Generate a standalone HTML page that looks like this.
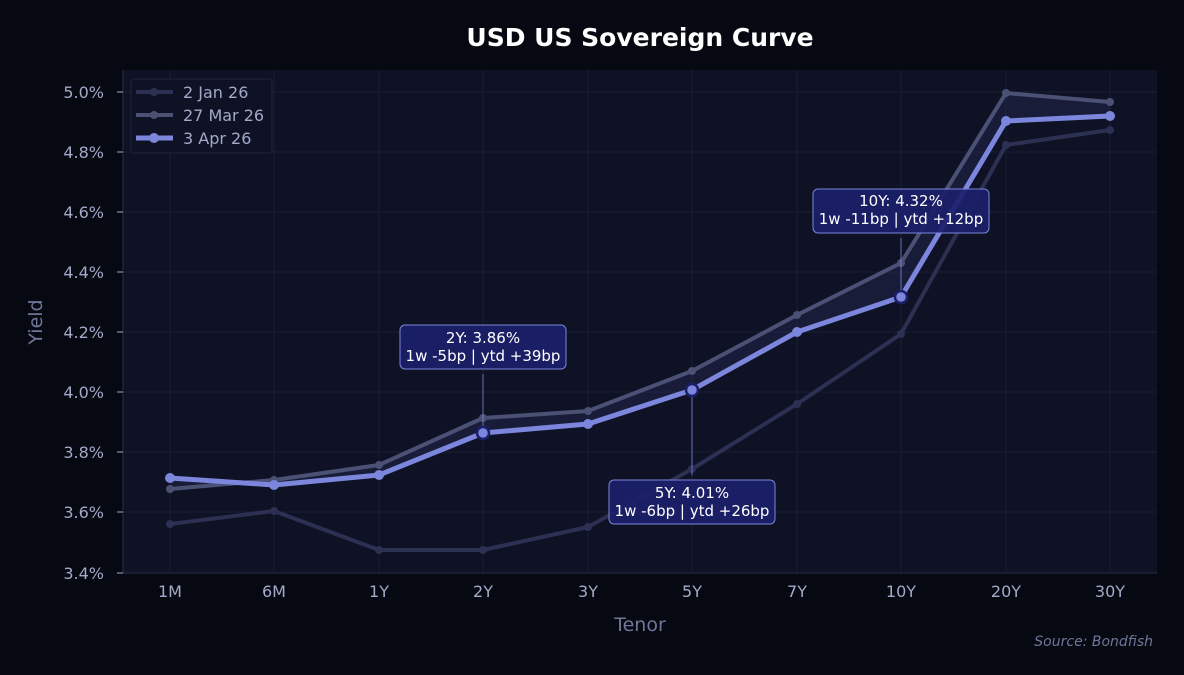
<!DOCTYPE html>
<html><head><meta charset="utf-8"><style>
html,body{margin:0;padding:0;background:#060911;}
svg{display:block;font-family:"DejaVu Sans","Liberation Sans",sans-serif;}
</style></head><body>
<svg width="1184" height="675" viewBox="0 0 1184 675">
<rect width="1184" height="675" fill="#060911"/>
<rect x="123" y="70" width="1034" height="503" fill="#0e1224"/>
<g stroke="#1a1f35" stroke-width="1">
<line x1="123" x2="1157" y1="92" y2="92"/><line x1="123" x2="1157" y1="152" y2="152"/>
<line x1="123" x2="1157" y1="212" y2="212"/><line x1="123" x2="1157" y1="272" y2="272"/>
<line x1="123" x2="1157" y1="332" y2="332"/><line x1="123" x2="1157" y1="392" y2="392"/>
<line x1="123" x2="1157" y1="452" y2="452"/><line x1="123" x2="1157" y1="512" y2="512"/>
<line y1="70" y2="573" x1="170" x2="170"/><line y1="70" y2="573" x1="274" x2="274"/>
<line y1="70" y2="573" x1="379" x2="379"/><line y1="70" y2="573" x1="483" x2="483"/>
<line y1="70" y2="573" x1="588" x2="588"/><line y1="70" y2="573" x1="692" x2="692"/>
<line y1="70" y2="573" x1="797" x2="797"/><line y1="70" y2="573" x1="901" x2="901"/>
<line y1="70" y2="573" x1="1006" x2="1006"/><line y1="70" y2="573" x1="1110" x2="1110"/>
</g>
<line x1="123" x2="1157" y1="573" y2="573" stroke="#2a2f48"/>
<line x1="123" x2="123" y1="70" y2="573" stroke="#2a2f48"/>
<text x="640" y="46" text-anchor="middle" fill="#ffffff" font-size="25" font-weight="bold">USD US Sovereign Curve</text>
<g fill="#a3a9c9" font-size="16" text-anchor="end">
<text x="104" y="98">5.0%</text><text x="104" y="158">4.8%</text><text x="104" y="218">4.6%</text>
<text x="104" y="278">4.4%</text><text x="104" y="338">4.2%</text><text x="104" y="398">4.0%</text>
<text x="104" y="458">3.8%</text><text x="104" y="518">3.6%</text><text x="104" y="579">3.4%</text>
</g>
<g stroke="#a3a9c9"><line x1="117" x2="123" y1="92" y2="92"/><line x1="117" x2="123" y1="152" y2="152"/><line x1="117" x2="123" y1="212" y2="212"/><line x1="117" x2="123" y1="272" y2="272"/><line x1="117" x2="123" y1="332" y2="332"/><line x1="117" x2="123" y1="392" y2="392"/><line x1="117" x2="123" y1="452" y2="452"/><line x1="117" x2="123" y1="512" y2="512"/><line x1="117" x2="123" y1="573" y2="573"/></g>
<g fill="#a3a9c9" font-size="16" text-anchor="middle">
<text x="170" y="597">1M</text><text x="274" y="597">6M</text><text x="379" y="597">1Y</text><text x="483" y="597">2Y</text><text x="588" y="597">3Y</text><text x="692" y="597">5Y</text><text x="797" y="597">7Y</text><text x="901" y="597">10Y</text><text x="1006" y="597">20Y</text><text x="1110" y="597">30Y</text>
</g>
<text x="640" y="631" text-anchor="middle" fill="#6f7699" font-size="19">Tenor</text>
<text transform="translate(42,322) rotate(-90)" text-anchor="middle" fill="#6f7699" font-size="19">Yield</text>
<text x="1153" y="646" text-anchor="end" fill="#6f7699" font-size="14" font-style="italic">Source: Bondfish</text>
<polygon points="170,489 274,480 379,465 483,418 588,411 692,371 797,315 901,263 1006,93 1110,102 1110,116 1006,121 901,297 797,332 692,390 588,424 483,433 379,475 274,485 170,478" fill="#2a3060" opacity="0.35"/>
<g fill="none" stroke-linejoin="round">
<polyline points="170,524 274,511 379,550 483,550 588,527 692,469 797,404 901,334 1006,145 1110,130" stroke="#2c3052" stroke-width="4"/>
<polyline points="170,489 274,480 379,465 483,418 588,411 692,371 797,315 901,263 1006,93 1110,102" stroke="#4a5175" stroke-width="4"/>
<polyline points="170,478 274,485 379,475 483,433 588,424 692,390 797,332 901,297 1006,121 1110,116" stroke="#7b86dc" stroke-width="5"/>
</g>
<g fill="#2c3052"><circle cx="170" cy="524" r="4"/><circle cx="274" cy="511" r="4"/><circle cx="379" cy="550" r="4"/><circle cx="483" cy="550" r="4"/><circle cx="588" cy="527" r="4"/><circle cx="692" cy="469" r="4"/><circle cx="797" cy="404" r="4"/><circle cx="901" cy="334" r="4"/><circle cx="1006" cy="145" r="4"/><circle cx="1110" cy="130" r="4"/></g>
<g fill="#4a5175"><circle cx="170" cy="489" r="4"/><circle cx="274" cy="480" r="4"/><circle cx="379" cy="465" r="4"/><circle cx="483" cy="418" r="4"/><circle cx="588" cy="411" r="4"/><circle cx="692" cy="371" r="4"/><circle cx="797" cy="315" r="4"/><circle cx="901" cy="263" r="4"/><circle cx="1006" cy="93" r="4"/><circle cx="1110" cy="102" r="4"/></g>
<g fill="#7b86dc"><circle cx="170" cy="478" r="5"/><circle cx="274" cy="485" r="5"/><circle cx="379" cy="475" r="5"/><circle cx="588" cy="424" r="5"/><circle cx="797" cy="332" r="5"/><circle cx="1006" cy="121" r="5"/><circle cx="1110" cy="116" r="5"/></g>
<g fill="#7b86dc" stroke="#1b1f6a" stroke-width="2.5"><circle cx="483" cy="433" r="6"/><circle cx="692" cy="390" r="6"/><circle cx="901" cy="297" r="6"/></g>
<g stroke="#7b86dc" stroke-width="1" opacity="0.8"><line x1="483" x2="483" y1="374" y2="426"/><line x1="692" x2="692" y1="397" y2="475"/><line x1="901" x2="901" y1="238" y2="290"/></g>
<g font-size="15" fill="#ffffff" text-anchor="middle">
<rect x="400" y="325" width="166" height="44" rx="5" fill="#1b1f6a" fill-opacity="0.92" stroke="#7b86dc"/>
<text x="483" y="343">2Y: 3.86%</text><text x="483" y="361">1w -5bp | ytd +39bp</text>
<rect x="609" y="480" width="166" height="44" rx="5" fill="#1b1f6a" fill-opacity="0.92" stroke="#7b86dc"/>
<text x="692" y="498">5Y: 4.01%</text><text x="692" y="516">1w -6bp | ytd +26bp</text>
<rect x="813" y="189" width="176" height="44" rx="5" fill="#1b1f6a" fill-opacity="0.92" stroke="#7b86dc"/>
<text x="901" y="206">10Y: 4.32%</text><text x="901" y="224">1w -11bp | ytd +12bp</text>
</g>
<rect x="131" y="79" width="141" height="74" rx="3" fill="#0e1224" stroke="#1f2440"/>
<line x1="136" x2="173" y1="92" y2="92" stroke="#2c3052" stroke-width="4"/><circle cx="154" cy="92" r="4" fill="#2c3052"/>
<line x1="136" x2="173" y1="115" y2="115" stroke="#4a5175" stroke-width="4"/><circle cx="154" cy="115" r="4" fill="#4a5175"/>
<line x1="136" x2="173" y1="138" y2="138" stroke="#7b86dc" stroke-width="5"/><circle cx="154" cy="138" r="5" fill="#7b86dc"/>
<g fill="#a3a9c9" font-size="16"><text x="183" y="98">2 Jan 26</text><text x="183" y="121">27 Mar 26</text><text x="183" y="144">3 Apr 26</text></g>
</svg>
</body></html>
